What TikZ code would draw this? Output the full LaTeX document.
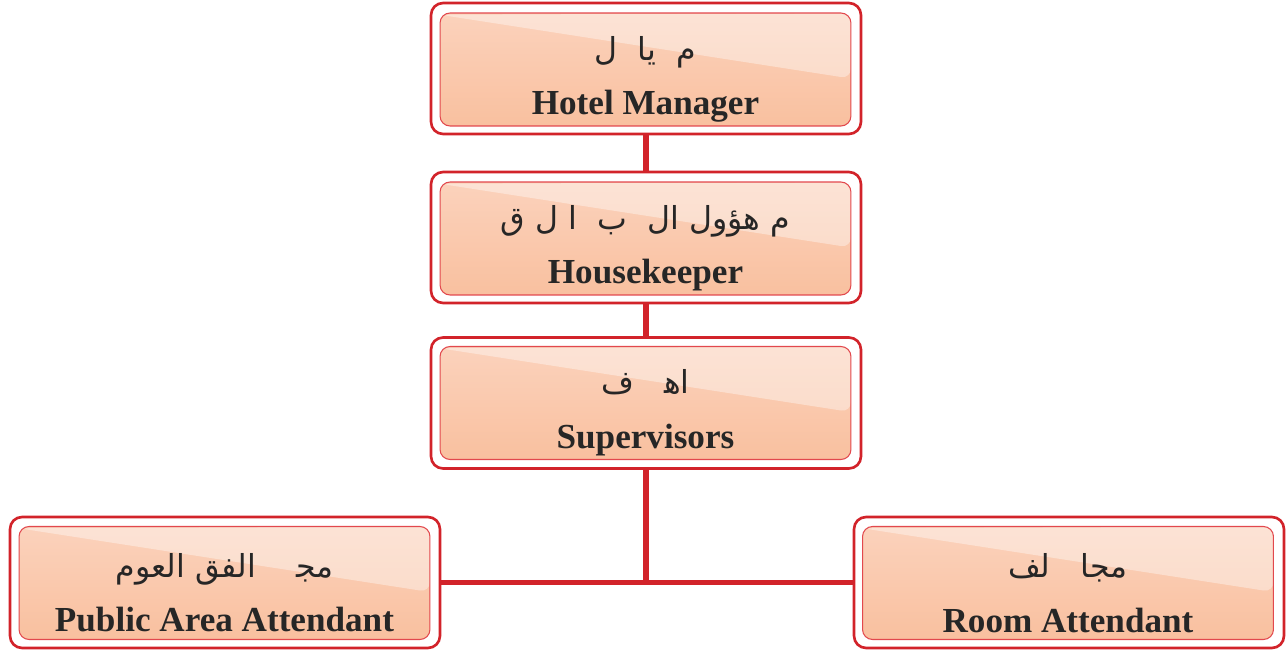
\documentclass[tikz,border=0pt]{standalone}
\usepackage{fontspec}
\setmainfont{Liberation Serif}
\newfontfamily\arabicfont[Script=Arabic]{DejaVu Sans}
\TeXXeTstate=1
\usetikzlibrary{calc}
\definecolor{chartred}{HTML}{D2232A}
\definecolor{boxline}{HTML}{E2484D}
\definecolor{boxtop}{HTML}{FBD2BC}
\definecolor{boxbottom}{HTML}{F9C09F}
\newcommand{\artext}[1]{\rule{0pt}{25pt}{\arabicfont\mdseries\fontsize{18}{20}\selectfont\beginR #1\endR}}

\begin{document}
\begin{tikzpicture}[x=0.02cm, y=-0.02cm,
    outerbox/.style={rectangle, rounded corners=0.24cm, draw=chartred, line width=1.5pt,
                     fill=white, minimum width=8.6cm, minimum height=2.62cm, inner sep=0pt},
    innerbox/.style={rectangle, rounded corners=0.2cm, draw=boxline, line width=0.6pt,
                     top color=boxtop, bottom color=boxbottom,
                     minimum width=8.22cm, minimum height=2.26cm, inner sep=0pt,
                     align=center, text=black!85,
                     font=\bfseries\fontsize{20}{23}\selectfont,
                     path picture={\fill[white, opacity=0.38]
                        ([yshift=-1pt]path picture bounding box.north west)
                        -- (path picture bounding box.north east)
                        -- ($(path picture bounding box.north east)!0.58!(path picture bounding box.south east)$)
                        -- cycle;}},
    link/.style={draw=chartred, line width=3.4pt}
]
    \useasboundingbox (0,0) rectangle (1286,652);

    % Top chain
    \node[outerbox] (mgrO) at (646,68.5) {};
    \node[innerbox] (mgr) at (645.5,69.5) {\artext{م~~يا~~ل}\\[8pt]Hotel Manager};
    \node[outerbox] (hkO) at (646,237.5) {};
    \node[innerbox] (hk) at (645.5,238.5) {\artext{م~هؤول~ال~~ب~~ا~ل~ق}\\[8pt]Housekeeper};
    \node[outerbox] (supO) at (646,403) {};
    \node[innerbox] (sup) at (645.5,403) {\artext{اه‍~~~ف}\\[8pt]Supervisors};

    % Bottom row
    \node[outerbox] (pubO) at (225,582.5) {};
    \node[innerbox] (pub) at (224.5,583) {\artext{مج‍~~~~الفق~العوم}\\[8pt]Public Area Attendant};
    \node[outerbox] (roomO) at (1069,582.5) {};
    \node[innerbox] (room) at (1068,583) {\artext{مجا~~~لف}\\[8pt]Room Attendant};

    % Connectors
    \coordinate (jn) at (supO.south |- pubO.east);
    \draw[link] (mgrO) -- (hkO);
    \draw[link] (hkO) -- (supO);
    \draw[link] (supO) -- (jn);
    \draw[link] (pubO) -- (roomO);
\end{tikzpicture}
\end{document}
